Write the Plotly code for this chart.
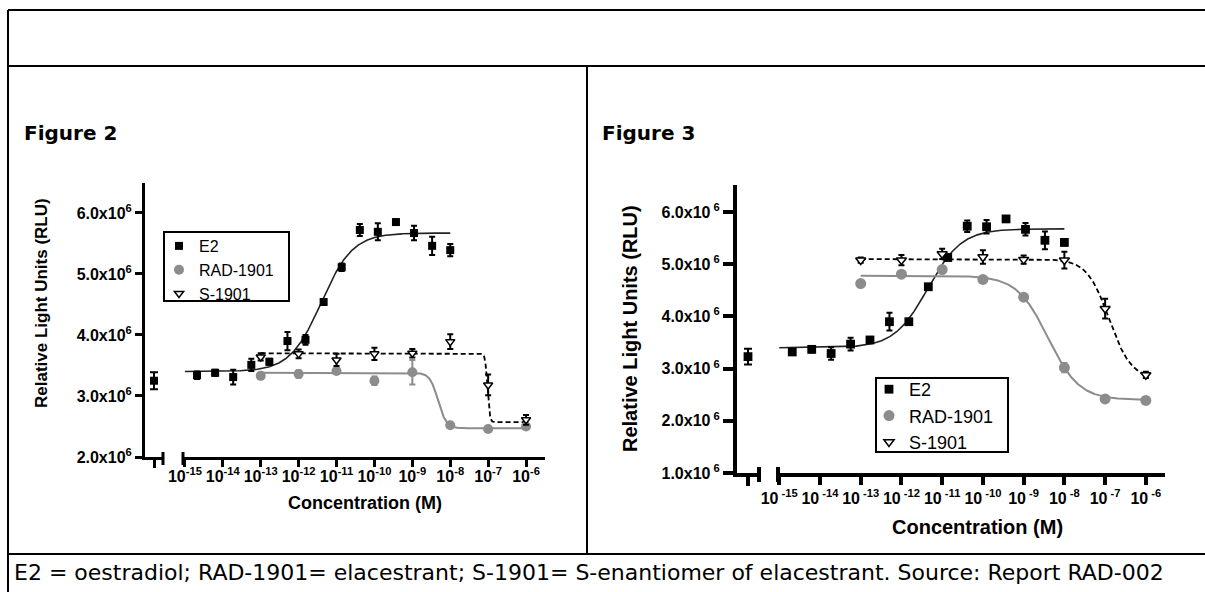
import numpy as np
import plotly.graph_objects as go

W, H = 1205, 592

# ---------------- data (RLU in units of 10^6) ----------------
# E2: 3-fold serial dilution from 10 nM
conc_e2 = [2.09e-15, 6.27e-15, 1.88e-14, 5.65e-14, 1.69e-13, 5.08e-13, 1.52e-12,
           4.57e-12, 1.37e-11, 4.12e-11, 1.23e-10, 3.70e-10, 1.11e-9, 3.33e-9, 1.0e-8]
# RAD-1901 / S-1901: 10-fold dilution
conc_sel = [1e-13, 1e-12, 1e-11, 1e-10, 1e-9, 1e-8, 1e-7, 1e-6]

# Figure 2
f2_vehicle_e2, f2_vehicle_e2_err = 3.25, 0.14
f2_e2 = [3.34, 3.38, 3.31, 3.51, 3.56, 3.90, 3.92, 4.54, 5.11, 5.72, 5.69, 5.85, 5.67, 5.46, 5.39]
f2_e2_err = [0.06, 0.05, 0.12, 0.10, 0.05, 0.15, 0.08, 0.05, 0.06, 0.10, 0.14, 0.05, 0.12, 0.15, 0.10]
f2_rad = [3.33, 3.36, 3.41, 3.25, 3.39, 2.52, 2.46, 2.50]
f2_rad_err = [0.05, 0.06, 0.04, 0.07, 0.20, 0.03, 0.03, 0.03]
f2_s = [3.64, 3.69, 3.59, 3.69, 3.70, 3.89, 3.18, 2.61]
f2_s_err = [0.06, 0.07, 0.10, 0.10, 0.07, 0.12, 0.17, 0.08]

# Figure 3
f3_vehicle_e2, f3_vehicle_e2_err = 3.23, 0.15
f3_e2 = [3.32, 3.37, 3.29, 3.47, 3.55, 3.90, 3.90, 4.57, 5.13, 5.73, 5.72, 5.87, 5.67, 5.46, 5.42]
f3_e2_err = [0.05, 0.06, 0.12, 0.12, 0.05, 0.17, 0.05, 0.05, 0.05, 0.11, 0.13, 0.04, 0.12, 0.17, 0.06]
f3_rad = [4.63, 4.81, 4.90, 4.71, 4.37, 3.02, 2.42, 2.39]
f3_rad_err = [0.04, 0.04, 0.05, 0.04, 0.06, 0.09, 0.03, 0.03]
f3_s = [5.08, 5.08, 5.20, 5.14, 5.09, 5.08, 4.15, 2.88]
f3_s_err = [0.05, 0.10, 0.10, 0.13, 0.08, 0.16, 0.19, 0.06]

# four-parameter logistic fits: (bottom, top, logEC50, hill, log x start, log x end)
f2_fit_e2 = (3.40, 5.67, -11.40, 1.05, -15, -8)
f2_fit_rad = (2.47, 3.38, -8.32, 4.0, -13, -6)
f2_fit_s = (2.57, 3.70, -7.02, 15.0, -13, -6)
f3_fit_e2 = (3.40, 5.68, -11.35, 1.05, -15, -8)
f3_fit_rad = (2.40, 4.78, -8.40, 1.14, -13, -6)
f3_fit_s = (2.80, 5.10, -6.90, 1.6, -13, -6)

decades = [1e-15, 1e-14, 1e-13, 1e-12, 1e-11, 1e-10, 1e-9, 1e-8, 1e-7, 1e-6]
exponents = ["-15", "-14", "-13", "-12", "-11", "-10", "-9", "-8", "-7", "-6"]
f2_yticks = [2, 3, 4, 5, 6]
f3_yticks = [1, 2, 3, 4, 5, 6]

series_names = ["E2", "RAD-1901", "S-1901"]

E6 = 1e6
GREY = "#8c8c8c"
ARIAL = "Liberation Sans"
VERDANA = "DejaVu Sans"


def px_x(p):
    return p / W


def px_y(p):
    return 1 - p / H


def logistic(fit, rising):
    bottom, top, c, h, lo, hi = fit
    lx = np.linspace(lo, hi, 600)
    s = h if rising else -h
    y = bottom + (top - bottom) / (1 + 10 ** (s * (c - lx)))
    return 10 ** lx, y * E6


fig = go.Figure()

panels = [
    dict(xv="x", xl="x2", y="y", legend="legend", veh=(f2_vehicle_e2, f2_vehicle_e2_err),
         e2=(f2_e2, f2_e2_err), rad=(f2_rad, f2_rad_err), s=(f2_s, f2_s_err),
         fits=(f2_fit_e2, f2_fit_rad, f2_fit_s), msize=1.0, lw=1.6),
    dict(xv="x3", xl="x4", y="y2", legend="legend2", veh=(f3_vehicle_e2, f3_vehicle_e2_err),
         e2=(f3_e2, f3_e2_err), rad=(f3_rad, f3_rad_err), s=(f3_s, f3_s_err),
         fits=(f3_fit_e2, f3_fit_rad, f3_fit_s), msize=1.1, lw=1.6),
]

for p in panels:
    fe2, frad, fs = p["fits"]
    # fitted curves
    cx, cy = logistic(fe2, True)
    fig.add_trace(go.Scatter(x=cx, y=cy, mode="lines", xaxis=p["xl"], yaxis=p["y"],
                             line=dict(color="#222222", width=p["lw"]), showlegend=False,
                             hoverinfo="skip"))
    cx, cy = logistic(frad, False)
    fig.add_trace(go.Scatter(x=cx, y=cy, mode="lines", xaxis=p["xl"], yaxis=p["y"],
                             line=dict(color=GREY, width=2), showlegend=False,
                             hoverinfo="skip"))
    cx, cy = logistic(fs, False)
    fig.add_trace(go.Scatter(x=cx, y=cy, mode="lines", xaxis=p["xl"], yaxis=p["y"],
                             line=dict(color="black", width=1.8, dash="5px,3px"),
                             showlegend=False, hoverinfo="skip"))

    m = p["msize"]
    # vehicle control on the broken-off part of the axis
    v, ve = p["veh"]
    fig.add_trace(go.Scatter(x=["Vehicle"], y=[v * E6], mode="markers", xaxis=p["xv"],
                             yaxis=p["y"], showlegend=False,
                             marker=dict(symbol="square", size=8 * m, color="black"),
                             error_y=dict(type="data", array=[ve * E6], color="black",
                                          thickness=2, width=4)))

    vals, errs = p["e2"]
    fig.add_trace(go.Scatter(x=conc_e2, y=[a * E6 for a in vals], mode="markers",
                             xaxis=p["xl"], yaxis=p["y"], name=series_names[0],
                             legend=p["legend"],
                             marker=dict(symbol="square", size=8 * m, color="black"),
                             error_y=dict(type="data", array=[e * E6 for e in errs],
                                          color="black", thickness=2, width=3)))
    vals, errs = p["rad"]
    fig.add_trace(go.Scatter(x=conc_sel, y=[a * E6 for a in vals], mode="markers",
                             xaxis=p["xl"], yaxis=p["y"], name=series_names[1],
                             legend=p["legend"],
                             marker=dict(symbol="circle", size=10 * m, color=GREY),
                             error_y=dict(type="data", array=[e * E6 for e in errs],
                                          color=GREY, thickness=2, width=3)))
    vals, errs = p["s"]
    fig.add_trace(go.Scatter(x=conc_sel, y=[a * E6 for a in vals], mode="markers",
                             xaxis=p["xl"], yaxis=p["y"], name=series_names[2],
                             legend=p["legend"],
                             marker=dict(symbol="triangle-down", size=8 * m, color="white",
                                         line=dict(color="black", width=1.5)),
                             error_y=dict(type="data", array=[e * E6 for e in errs],
                                          color="black", thickness=2, width=3)))


def xtick_text(gap):
    return [f"<b>10<sup>{gap}{e}</sup></b>" for e in exponents]


def ytick_text(vals, gap):
    return [f"<b>{v:.1f}x10<sup>{gap}6</sup></b>" for v in vals]


common_line = dict(showline=True, linecolor="black", showgrid=False, zeroline=False,
                   ticks="outside", tickcolor="black", fixedrange=True, tickangle=0)

# ---- Figure 2 axes ----
fig.update_layout(
    xaxis=dict(domain=[px_x(145), px_x(163)], type="category", range=[-0.5, 0.5],
               anchor="y", showticklabels=False, linewidth=3, ticklen=8, tickwidth=3,
               **common_line),
    xaxis2=dict(domain=[px_x(183), px_x(545)], type="log", range=[-15.05, -5.5],
                anchor="y", tickvals=decades, ticktext=xtick_text(""),
                tickfont=dict(family=ARIAL, size=16, color="black"),
                ticklabelstandoff=-4,
                linewidth=3, ticklen=7, tickwidth=3, **common_line),
    yaxis=dict(domain=[px_y(457), px_y(183)], range=[2.0 * E6, 6.49 * E6], anchor="x",
               tickvals=[t * E6 for t in f2_yticks], ticktext=ytick_text(f2_yticks, ""),
               tickfont=dict(family=ARIAL, size=16, color="black"),
               linewidth=3, ticklen=7, tickwidth=3, **common_line),
    # ---- Figure 3 axes ----
    xaxis3=dict(domain=[px_x(737), px_x(759)], type="category", range=[-0.5, 0.5],
                anchor="y2", showticklabels=False, linewidth=4, ticklen=9, tickwidth=4,
                **common_line),
    xaxis4=dict(domain=[px_x(778), px_x(1165)], type="log", range=[-15.03, -5.53],
                anchor="y2", tickvals=decades, ticktext=xtick_text(" "),
                tickfont=dict(family=ARIAL, size=16, color="black"),
                linewidth=4, ticklen=8, tickwidth=4, **common_line),
    yaxis2=dict(domain=[px_y(473), px_y(185)], range=[1.0 * E6, 6.52 * E6], anchor="x3",
                tickvals=[t * E6 for t in f3_yticks], ticktext=ytick_text(f3_yticks, " "),
                tickfont=dict(family=ARIAL, size=16, color="black"),
                linewidth=4, ticklen=10, tickwidth=4, **common_line),
)

# legends: entries from plotly, frame drawn as a separate rectangle
legend_common = dict(xanchor="left", yanchor="top", borderwidth=0,
                     bgcolor="rgba(0,0,0,0)", tracegroupgap=0, itemclick=False,
                     itemdoubleclick=False)
fig.update_layout(
    legend=dict(x=px_x(159), y=px_y(229), font=dict(family=ARIAL, size=16, color="black"),
                **legend_common),
    legend2=dict(x=px_x(869), y=px_y(371), font=dict(family=ARIAL, size=18, color="black"),
                 **legend_common),
)

shapes = []
for x0, y0, x1, y1 in [(164, 232, 289, 301), (876, 378, 1008, 452)]:
    shapes.append(dict(type="rect", xref="paper", yref="paper", x0=px_x(x0), x1=px_x(x1),
                       y0=px_y(y0), y1=px_y(y1), fillcolor="white", layer="below",
                       line=dict(color="black", width=2)))

# ---- axis break caps ----
for xv, xl, yax, lw, dn, up in [("x", "x2", "y", 3, -8, 5), ("x3", "x4", "y2", 4, -9, 6)]:
    for ref, pos in [(xv, 1), (xl, 0)]:
        shapes.append(dict(type="line", xref=f"{ref} domain", x0=pos, x1=pos,
                           yref=f"{yax} domain", ysizemode="pixel", yanchor=0,
                           y0=dn, y1=up, line=dict(color="black", width=lw)))

# ---- table borders ----
border = dict(color="black", width=2)
for x0, y0, x1, y1 in [(8, 10, W, 10), (8, 10, 8, H), (8, 66, W, 66),
                       (587, 66, 587, 554), (8, 554, W, 554)]:
    shapes.append(dict(type="line", xref="paper", yref="paper", x0=px_x(x0), x1=px_x(x1),
                       y0=px_y(y0), y1=px_y(y1), line=border))
fig.update_layout(shapes=shapes)

# ---- titles and caption ----
ann = []
ann.append(dict(text="<b>Figure 2</b>", x=px_x(22), y=px_y(133), xanchor="left",
                yanchor="middle", font=dict(family=VERDANA, size=20, color="black")))
ann.append(dict(text="<b>Figure 3</b>", x=px_x(600), y=px_y(133), xanchor="left",
                yanchor="middle", font=dict(family=VERDANA, size=20, color="black")))
ann.append(dict(text="<b>Relative Light Units (RLU)</b>", x=px_x(41), y=px_y(303),
                textangle=-90, xanchor="center", yanchor="middle",
                font=dict(family=ARIAL, size=17, color="black")))
ann.append(dict(text="<b>Relative Light Units (RLU)</b>", x=px_x(630), y=px_y(329),
                textangle=-90, xanchor="center", yanchor="middle",
                font=dict(family=ARIAL, size=20, color="black")))
ann.append(dict(text="<b>Concentration (M)</b>", x=px_x(365), y=px_y(503),
                xanchor="center", yanchor="middle",
                font=dict(family=ARIAL, size=18, color="black")))
ann.append(dict(text="<b>Concentration (M)</b>", x=px_x(977), y=px_y(527),
                xanchor="center", yanchor="middle",
                font=dict(family=ARIAL, size=20, color="black")))
ann.append(dict(text="E2 = oestradiol; RAD-1901= elacestrant; S-1901= S-enantiomer of "
                     "elacestrant. Source: Report RAD-002",
                x=px_x(12), y=px_y(572), xanchor="left", yanchor="middle",
                font=dict(family=VERDANA, size=22, color="black")))
for a in ann:
    a.update(xref="paper", yref="paper", showarrow=False)
fig.update_layout(annotations=ann)

fig.update_layout(width=W, height=H, margin=dict(l=0, r=0, t=0, b=0, autoexpand=False),
                  paper_bgcolor="white", plot_bgcolor="white", hovermode=False)

fig.write_html("out.html", config=dict(displayModeBar=False))
